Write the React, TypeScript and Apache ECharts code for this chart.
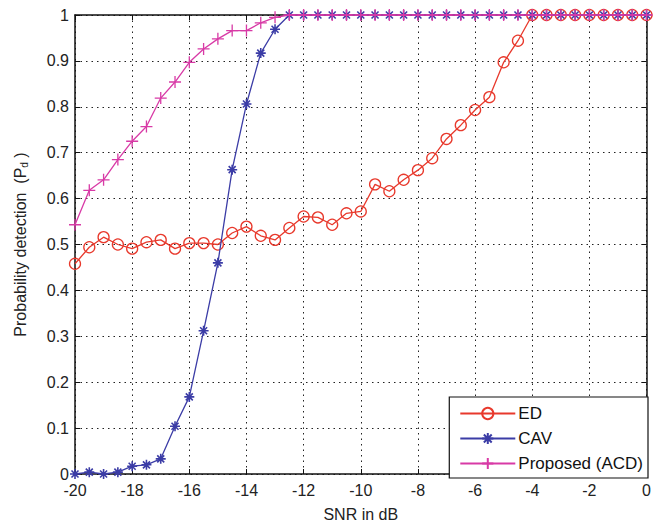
import React, { useEffect, useRef } from "react";
import * as echarts from "echarts";

const snr = [
  -20, -19.5, -19, -18.5, -18, -17.5, -17, -16.5, -16, -15.5, -15, -14.5, -14, -13.5, -13, -12.5, -12, -11.5, -11, -10.5,
  -10, -9.5, -9, -8.5, -8, -7.5, -7, -6.5, -6, -5.5, -5, -4.5, -4, -3.5, -3, -2.5, -2, -1.5, -1, -0.5, 0,
];

const edValues = [
  0.458, 0.494, 0.516, 0.5, 0.491, 0.505, 0.51, 0.491, 0.503, 0.503, 0.5, 0.525, 0.539, 0.519, 0.51, 0.536, 0.561, 0.559,
  0.543, 0.568, 0.572, 0.631, 0.616, 0.641, 0.662, 0.688, 0.73, 0.76, 0.793, 0.821, 0.897, 0.944, 1, 1, 1, 1, 1, 1, 1, 1, 1,
];

const cavValues = [
  0, 0.004, 0, 0.004, 0.017, 0.02, 0.033, 0.104, 0.168, 0.312, 0.46, 0.663, 0.806, 0.917, 0.969, 1, 1, 1, 1, 1, 1, 1, 1, 1,
  1, 1, 1, 1, 1, 1, 1, 1, 1, 1, 1, 1, 1, 1, 1, 1, 1,
];

const proposedValues = [
  0.543, 0.618, 0.641, 0.685, 0.725, 0.757, 0.819, 0.854, 0.897, 0.926, 0.948, 0.966, 0.966, 0.983, 0.995, 1, 1, 1, 1, 1, 1,
  1, 1, 1, 1, 1, 1, 1, 1, 1, 1, 1, 1, 1, 1, 1, 1, 1, 1, 1, 1,
];

const seriesNames = ["ED", "CAV", "Proposed (ACD)"];

const RED = "#e8392c";
const BLUE = "#3b3ca6";
const MAGENTA = "#d83aa6";
const FONT = "Liberation Sans, Arial, sans-serif";

const ASTERISK = "path://M0,-10L0,10M-10,0L10,0M-7,-7L7,7M-7,7L7,-7";
const PLUS = "path://M0,-10L0,10M-10,0L10,0";

const pairs = (ys: number[]) => snr.map((x, i) => [x, ys[i]]);

export default function App() {
  const ref = useRef<HTMLDivElement>(null);
  useEffect(() => {
    if (!ref.current) return;
    const chart = echarts.init(ref.current, undefined, { renderer: "svg" });
    const gridLine = { show: true, lineStyle: { color: "#222", type: [1.5, 4] as any, width: 1 } };
    const tickCommon = { show: true, inside: true, length: 5, lineStyle: { color: "#111", width: 1 } };
    chart.setOption({
      animation: false,
      backgroundColor: "#fff",
      textStyle: { fontFamily: FONT },
      grid: { left: 75, right: 6, top: 15, bottom: 49, show: false },
      legend: {
        right: 6,
        bottom: 49,
        orient: "vertical",
        itemWidth: 55,
        itemHeight: 14,
        itemGap: 8,
        padding: [8, 5, 6, 10],
        backgroundColor: "#fff",
        borderColor: "#111",
        borderWidth: 1.2,
        textStyle: { fontSize: 17, fontFamily: FONT, color: "#111", padding: [0, 0, 0, -2] },
        data: seriesNames,
      },
      xAxis: [
        {
          type: "value",
          min: -20,
          max: 0,
          interval: 2,
          name: "SNR in dB",
          nameLocation: "middle",
          nameGap: 32,
          nameTextStyle: { fontSize: 16, color: "#222", fontFamily: FONT },
          axisLine: { show: true, onZero: false, lineStyle: { color: "#111", width: 1.5 } },
          axisTick: tickCommon,
          axisLabel: { fontSize: 16, color: "#222", margin: 8, fontFamily: FONT },
          splitLine: gridLine,
        },
        {
          type: "value",
          position: "top",
          min: -20,
          max: 0,
          interval: 2,
          axisLine: { show: true, onZero: false, lineStyle: { color: "#111", width: 1.5 } },
          axisTick: tickCommon,
          axisLabel: { show: false },
          splitLine: { show: false },
        },
      ],
      yAxis: [
        {
          type: "value",
          min: 0,
          max: 1,
          interval: 0.1,
          name: "Probability detection  (P{sub|d} )",
          nameLocation: "middle",
          nameGap: 46,
          nameRotate: 90,
          nameTextStyle: {
            fontSize: 16,
            color: "#222",
            fontFamily: FONT,
            rich: {
              sub: { fontSize: 10, fontFamily: FONT, color: "#222", padding: [8, 0, 0, 0] },
            },
          },
          axisLine: { show: true, onZero: false, lineStyle: { color: "#111", width: 1.5 } },
          axisTick: tickCommon,
          axisLabel: {
            fontSize: 16,
            color: "#222",
            margin: 6,
            fontFamily: FONT,
            formatter: (v: number) => (Math.abs(v - Math.round(v)) < 1e-9 ? String(Math.round(v)) : v.toFixed(1)),
          },
          splitLine: gridLine,
        },
        {
          type: "value",
          position: "right",
          min: 0,
          max: 1,
          interval: 0.1,
          axisLine: { show: true, onZero: false, lineStyle: { color: "#111", width: 1.5 } },
          axisTick: tickCommon,
          axisLabel: { show: false },
          splitLine: { show: false },
        },
      ],
      series: [
        {
          name: seriesNames[0],
          type: "line",
          data: pairs(edValues),
          clip: false,
          symbol: "circle",
          symbolSize: 11,
          showAllSymbol: true,
          lineStyle: { color: RED, width: 1.3 },
          itemStyle: { color: "rgba(255,255,255,0)", borderColor: RED, borderWidth: 1.3 },
          z: 3,
        },
        {
          name: seriesNames[1],
          type: "line",
          data: pairs(cavValues),
          clip: false,
          symbol: ASTERISK,
          symbolSize: 10,
          showAllSymbol: true,
          lineStyle: { color: BLUE, width: 1.3 },
          itemStyle: { color: BLUE, borderColor: BLUE, borderWidth: 1.6 },
          z: 4,
        },
        {
          name: seriesNames[2],
          type: "line",
          data: pairs(proposedValues),
          clip: false,
          symbol: PLUS,
          symbolSize: 12,
          showAllSymbol: true,
          lineStyle: { color: MAGENTA, width: 1.3 },
          itemStyle: { color: MAGENTA, borderColor: MAGENTA, borderWidth: 1.3 },
          z: 5,
        },
      ],
    });
    return () => chart.dispose();
  }, []);
  return (
    <div
      ref={ref}
      style={{ position: "absolute", left: 0, top: 0, width: 654, height: 527, background: "#fff" }}
    />
  );
}
